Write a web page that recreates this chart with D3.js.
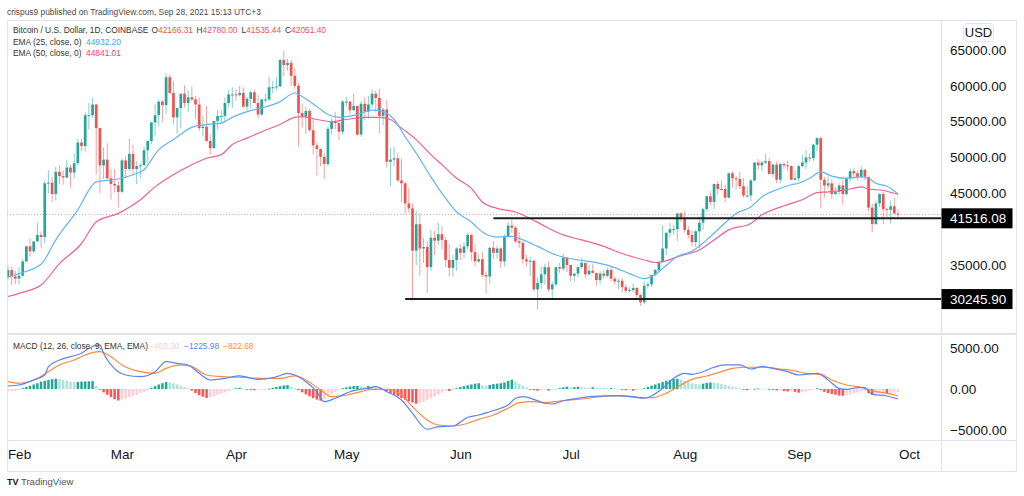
<!DOCTYPE html>
<html><head><meta charset="utf-8">
<script src="https://cdn.jsdelivr.net/npm/d3@7"></script>
<style>
html,body{margin:0;padding:0;background:#fff;}
svg{display:block;font-family:"Liberation Sans",Arial,sans-serif;}
</style></head><body>
<svg id="c" width="1024" height="496"></svg>
<script>
// ---------- DATA ----------
const firstDay = "2021-01-29";
const lastDay = "2021-09-28";
const monthTicks = ["2021-02-01","2021-03-01","2021-04-01","2021-05-01","2021-06-01","2021-07-01","2021-08-01","2021-09-01","2021-10-01"];
const priceTicks = [35000,40000,45000,50000,55000,60000,65000];
const macdTicks = [-5000,0,5000];

const open = [33300,34300,33400,33100,33500,35500,37600,36900,38300,39200,
38900,46400,46500,44900,48000,47400,47200,48600,47900,49200,
52100,51600,55900,55900,57400,54100,48900,49700,47100,46300,
46100,45200,49600,48400,50500,48400,48800,48900,51000,52300,
54900,55900,57800,57300,61200,59000,55600,56900,58900,57600,
58400,58100,57400,54100,54300,52300,51300,55100,55800,55800,
57600,58800,58800,58700,59000,57100,58200,59100,57600,56000,
58100,58100,59800,59800,59900,63600,62900,63200,61400,60000,
56200,55700,56500,53800,51700,51200,50100,49100,54000,55000,
54800,53600,57800,57800,56600,57200,53200,57500,56400,57400,
58900,58300,55800,56700,49400,49700,49900,46800,46400,43600,
42900,37000,40700,37300,37500,34700,38800,38400,39300,38500,
35700,34600,35700,37300,36700,37600,39200,36800,35500,35800,
33600,33400,37400,36700,37300,35500,39000,40500,40200,38300,
38100,35800,35500,35600,31600,32500,33700,34700,31600,32300,
34700,34500,36000,35000,33500,33800,34700,35300,33700,34200,
33900,32900,33800,33500,34300,33100,32700,32800,31900,31400,
31500,31800,30800,29800,32100,32300,33600,34300,35400,37300,
39500,40000,40000,42200,41500,39900,39200,38200,39700,40900,
42800,44600,43800,46300,45600,45600,44400,47800,47100,47000,
46000,44700,44700,46800,49300,48900,49300,49500,47700,49000,
46900,49100,48900,48800,46900,47100,48800,49300,50000,49900,
51800,52700,46900,46100,46400,44900,45200,46100,44900,47100,
48100,47800,47300,48300,47300,43000,40700,43600,44900,42800,
42700,43200,42166.31];

const high = [34900,34800,34200,34700,35900,37700,38700,38300,40900,39700,
46800,48200,47300,48700,48900,48200,49700,49000,50600,52600,
52600,56300,57600,58300,57500,54200,51400,52000,48400,48400,
46700,49800,50200,52600,51800,49500,49200,51500,52400,54900,
57400,58100,58000,61700,61600,60600,56900,58900,60100,59400,
59900,58600,58400,55800,57200,53200,55100,56600,56600,58400,
59400,59800,59500,60000,59800,58500,59300,59500,58700,58200,
58900,61300,60700,61200,63800,64900,63800,63600,62500,60400,
57500,57100,56800,55500,52100,51200,50600,54400,55500,56400,
55200,58000,58500,57900,58900,57200,57900,58400,58600,59500,
59300,59600,56900,58000,51300,51500,50700,49800,46600,45800,
43600,42600,42200,38800,38300,39900,39800,40900,40400,38900,
37900,36400,37500,37900,38200,39500,39300,37900,36500,36800,
34100,37500,38400,37700,37500,39300,41000,41300,40500,39600,
38200,36400,36100,35700,33300,34800,35200,35500,32700,34700,
35300,36600,36100,35000,33900,34900,35900,35300,35000,35100,
33900,34100,34300,34600,34700,33300,33100,33200,32300,31900,
32400,31900,31000,32800,32600,33600,34500,35400,40500,39500,
40900,40600,42300,42400,42600,40400,39800,39900,41400,43000,
44700,45300,46400,46700,46800,46200,47900,48100,47400,48000,
47100,46000,47000,49300,49800,49500,50500,49900,49200,49400,
49200,49300,49600,48900,48200,49000,50400,51000,50600,51900,
52800,52900,47300,47400,47000,45900,46400,46900,47300,48500,
48500,48200,48800,48400,47300,43600,44000,45000,45200,43000,
44000,44400,42780.00];

const low = [32900,32200,32300,32300,33400,35400,36200,36600,38200,37400,
38000,45000,43800,44000,46300,46200,47100,45800,47100,48900,
50900,50800,53900,55500,47600,45000,47000,46900,44100,45100,
43000,45000,47100,48100,47500,46300,47100,48900,49300,51900,
53100,54300,55000,56100,58900,54600,53300,54100,57000,56300,
57800,55500,53700,53000,52300,50400,51300,53900,54700,54900,
57000,56900,57900,58500,56900,56500,56800,57700,55500,55800,
57700,57900,59000,59400,59900,61300,62100,60000,59600,51500,
54200,53300,53600,50400,47500,48800,47000,48800,53300,53900,
52400,53100,57100,56000,56500,53000,52900,55200,55400,56900,
56300,53400,54500,48600,46000,48800,46600,43800,42100,42300,
30000,35000,33500,35300,31100,34200,36400,37800,37200,34700,
33400,33400,34200,35700,35900,37200,35600,34800,35300,33300,
31000,32400,35800,35900,34600,34800,38800,39500,38100,37400,
35200,34800,33400,31300,28800,31700,32300,31300,30200,32000,
33900,34200,34000,32700,32700,33300,34500,33200,33500,33800,
32100,32300,33100,33300,32700,32300,31600,31200,31100,31200,
31200,30400,29300,29500,31700,31900,33400,33900,35300,36400,
38800,39200,38300,41000,39500,38700,37600,37500,37300,39900,
42500,43300,42800,44700,45400,43800,44300,45800,45600,45600,
44400,44300,43900,46700,48300,48100,49100,47700,47200,46400,
46400,48400,48100,46900,46800,46600,48600,48400,49500,49500,
50900,42900,44400,45600,44200,44800,44800,43400,44700,46700,
47100,46800,47100,46900,42500,39600,40600,43100,40700,41700,
40800,42100,41535.44];

const close = [34300,33400,33100,33500,35500,37600,36900,38300,39200,38900,
46400,46500,44900,48000,47400,47200,48600,47900,49200,52100,
51600,55900,55900,57400,54100,48900,49700,47100,46300,46100,
45200,49600,48400,50500,48400,48800,48900,51000,52300,54900,
55900,57800,57300,61200,59000,55600,56900,58900,57600,58400,
58100,57400,54100,54300,52300,51300,55100,55800,55800,57600,
58800,58800,58700,59000,57100,58200,59100,57600,56000,58100,
58100,59800,59800,59900,63600,62900,63200,61400,60000,56200,
55700,56500,53800,51700,51200,50100,49100,54000,55000,54800,
53600,57800,57800,56600,57200,53200,57500,56400,57400,58900,
58300,55800,56700,49400,49700,49900,46800,46400,43600,42900,
37000,40700,37300,37500,34700,38800,38400,39300,38500,35700,
34600,35700,37300,36700,37600,39200,36800,35500,35800,33600,
33400,37400,36700,37300,35500,39000,40500,40200,38300,38100,
35800,35500,35600,31600,32500,33700,34700,31600,32300,34700,
34500,36000,35000,33500,33800,34700,35300,33700,34200,33900,
32900,33800,33500,34300,33100,32700,32800,31900,31400,31500,
31800,30800,29800,32100,32300,33600,34300,35400,37300,39500,
40000,40000,42200,41500,39900,39200,38200,39700,40900,42800,
44600,43800,46300,45600,45600,44400,47800,47100,47000,46000,
44700,44700,46800,49300,48900,49300,49500,47700,49000,46900,
49100,48900,48800,46900,47100,48800,49300,50000,49900,51800,
52700,46900,46100,46400,44900,45200,46100,44900,47100,48100,
47800,47300,48300,47300,43000,40700,43600,44900,42800,42700,
43200,42200,42051.40];

// [candle index, value]
const ema25Pts = [[0,33300],[3,33800],[9,35100],[13,38500],[19,42700],[24,46600],[30,47000],[34,47600],[37,48300],[41,51100],[45,52500],[50,54200],[54,54600],[58,54800],[61,55600],[65,56400],[69,56900],[74,57800],[78,59000],[80,58500],[84,57100],[87,56000],[90,55600],[95,56000],[99,56600],[102,56400],[105,55300],[108,52900],[111,50600],[115,47300],[118,45000],[122,42400],[126,41000],[129,39600],[133,38900],[137,39000],[140,38500],[144,37600],[149,36400],[155,35700],[158,35500],[164,34800],[169,33800],[173,33100],[175,33400],[178,34500],[182,36200],[186,36900],[190,38500],[194,40400],[198,42200],[202,43100],[205,44500],[209,45500],[213,46200],[215,46400],[218,47100],[221,48000],[224,47400],[228,47100],[232,47300],[234,47100],[236,46400],[239,46000],[242,44932.20]];
const ema50Pts = [[0,30600],[3,31050],[9,32200],[14,35200],[20,38000],[24,41000],[30,42200],[36,44100],[40,45900],[45,47600],[50,49000],[54,49900],[58,50400],[61,51800],[65,52700],[69,53600],[74,54600],[78,55600],[80,55700],[84,55300],[88,55000],[92,55300],[97,55600],[101,55600],[104,55300],[107,54100],[111,52500],[115,50400],[118,49000],[122,47100],[126,45700],[129,43800],[133,42900],[138,42400],[142,41500],[146,40400],[151,39200],[156,38500],[162,37600],[167,36600],[173,35700],[176,35350],[179,35600],[183,36300],[188,37100],[192,38500],[196,39900],[202,40800],[205,42000],[209,42900],[213,43600],[216,44100],[220,45100],[223,45200],[228,45500],[232,45900],[234,45600],[238,45400],[242,44841.01]];
const macdPts = [[0,370],[3,490],[7,1100],[10,1710],[11,2720],[14,3540],[17,3940],[20,4350],[22,4960],[25,5370],[26,4350],[30,2110],[32,1710],[36,1500],[40,2110],[43,3330],[46,3130],[49,2930],[52,1910],[55,1100],[59,1300],[63,1590],[68,1180],[70,1220],[73,1500],[76,1910],[78,1710],[81,890],[84,-330],[86,-1550],[89,-1130],[93,-330],[98,100],[100,280],[103,-330],[107,-1340],[110,-2960],[114,-4910],[117,-4600],[121,-4510],[125,-3450],[128,-3170],[131,-2770],[134,-2350],[136,-1950],[138,-1130],[140,-940],[143,-1260],[146,-1740],[148,-1830],[151,-1430],[155,-1130],[158,-940],[163,-850],[166,-850],[170,-940],[173,-1130],[175,-850],[178,85],[181,1300],[184,1910],[186,1790],[189,2110],[192,2650],[195,2930],[199,2930],[202,2440],[205,2720],[208,2520],[212,2110],[215,1710],[220,1910],[223,1100],[226,85],[228,-40],[231,160],[233,160],[235,-650],[239,-850],[242,-1225.98]];
const signalPts = [[0,890],[3,700],[7,1100],[11,2110],[14,2930],[18,3540],[21,4150],[25,4550],[28,3940],[31,2930],[36,2110],[40,1910],[43,2520],[47,2930],[50,2720],[54,1710],[58,1500],[63,1430],[69,1300],[74,1300],[78,1590],[81,1100],[85,-120],[88,-940],[92,-730],[96,-330],[99,-40],[103,-40],[107,-730],[110,-2160],[114,-3780],[117,-4390],[121,-4510],[125,-4180],[128,-3700],[132,-3170],[136,-2350],[139,-1670],[143,-1550],[146,-1670],[150,-1460],[156,-1220],[161,-940],[166,-820],[172,-1060],[175,-1060],[179,-520],[183,490],[186,1180],[190,1590],[194,2110],[197,2520],[201,2650],[206,2650],[210,2440],[214,2200],[217,1910],[221,1790],[224,1100],[228,490],[232,210],[234,-120],[238,-450],[242,-822.68]];
const histogram = [-300,-250,-200,-150,
100,250,400,550,700,900,
1000,1100,1200,1250,
1200,1100,1000,900,850,
870,900,920,940,960,
400,
-100,-400,-700,-1000,-1250,-1400,
-1300,-1150,-1000,-850,-700,-500,-350,-200,
150,350,550,700,850,
800,700,550,400,250,100,
-200,-500,-750,-950,-1100,
-1000,-850,-700,-550,-400,-250,-100,
100,150,
50,-30,-60,-150,-80,-40,-10,
50,150,250,350,430,460,
300,120,
-150,-400,-650,-900,-1100,-1300,-1430,
-1200,-900,-600,-350,-100,
100,200,300,360,380,
330,300,350,300,200,80,
-100,-300,-500,-700,-900,-1100,-1300,-1500,-1650,-1790,
-1700,-1550,-1350,-1150,-950,-700,-450,
-200,-250,-80,
100,250,350,450,550,650,700,
450,400,
500,600,650,700,800,
1000,1140,
900,650,400,200,
-50,-150,-200,-120,-100,-200,-150,-50,
100,200,280,200,220,280,200,
180,160,200,170,150,130,100,120,80,40,
-80,-150,-130,-200,-120,-80,
100,250,400,550,700,850,1000,1100,1200,1250,
1150,1000,850,700,600,
550,650,750,800,780,
700,600,500,380,280,180,80,
-100,-150,
-50,30,60,50,40,-20,
-100,-180,-150,-250,-300,-250,-350,-450,-400,-300,-200,-100,
100,
-150,-350,-500,-600,-700,-800,-820,-750,
-650,-500,-400,-300,-250,
-500,-700,-650,
-550,-500,-600,-520,-450,-403.30];

const levelValues = [41516.08, 30245.90];
const levelStarts = ["2021-06-10", "2021-05-17"];

// ---------- SETUP ----------
const svg = d3.select("#c");
const L = 7, R = 941, PR = 1016, T = 20, MID = 334, TA = 440, B = 471;
const parse = d3.utcParse("%Y-%m-%d");
const days = d3.utcDay.range(parse(firstDay), d3.utcDay.offset(parse(lastDay), 1));
const x = d3.scaleUtc().domain([parse("2021-02-01"), parse("2021-10-01")]).range([19, 909]);
const y = d3.scaleLinear().domain([35000, 65000]).range([265, 50]);
const ym = d3.scaleLinear().domain([-5000, 5000]).range([430, 348]);

const UP = "#26a69a", DOWN = "#ef5350";
const defs = svg.append("defs");
defs.append("clipPath").attr("id","clipMain").append("rect").attr("x",L+0.5).attr("y",T+1).attr("width",R-L-0.5).attr("height",MID-T-2);
defs.append("clipPath").attr("id","clipMacd").append("rect").attr("x",L+0.5).attr("y",MID+1).attr("width",R-L-0.5).attr("height",TA-MID-1);

// frames
const frame = svg.append("g").attr("fill","none").attr("stroke","#e0e3eb");
frame.append("rect").attr("x",L+0.5).attr("y",T+0.5).attr("width",PR-L).attr("height",B-T);
frame.append("line").attr("x1",R+0.5).attr("x2",R+0.5).attr("y1",T).attr("y2",B);
frame.append("line").attr("x1",L).attr("x2",PR).attr("y1",MID).attr("y2",MID).attr("stroke-width",2);
frame.append("line").attr("x1",L).attr("x2",PR).attr("y1",TA+0.5).attr("y2",TA+0.5);

// ---------- MAIN PANE ----------
const gMain = svg.append("g").attr("clip-path","url(#clipMain)");
const candles = days.map((d,i)=>({d, o:open[i], h:high[i], l:low[i], c:close[i]}));

// current price dotted line
gMain.append("line").attr("x1",L).attr("x2",R).attr("y1",y(close[close.length-1])).attr("y2",y(close[close.length-1]))
  .attr("stroke","#ef5350").attr("stroke-opacity",0.55).attr("stroke-dasharray","1,2");

gMain.append("g").selectAll("line").data(candles).join("line")
  .attr("x1",d=>x(d.d)).attr("x2",d=>x(d.d))
  .attr("y1",d=>y(d.h)).attr("y2",d=>y(d.l))
  .attr("stroke",d=>d.c>=d.o?UP:DOWN).attr("stroke-opacity",0.55).attr("stroke-width",1);
gMain.append("g").selectAll("rect").data(candles).join("rect")
  .attr("x",d=>x(d.d)-1.35).attr("width",2.7)
  .attr("y",d=>y(Math.max(d.o,d.c)))
  .attr("height",d=>Math.max(1,Math.abs(y(d.o)-y(d.c))))
  .attr("fill",d=>d.c>=d.o?UP:DOWN);

const line = d3.line().x(p=>x(days[p[0]])).y(p=>y(p[1])).curve(d3.curveMonotoneX);
gMain.append("path").attr("d",line(ema50Pts)).attr("fill","none").attr("stroke","#f06292").attr("stroke-width",1.2);
gMain.append("path").attr("d",line(ema25Pts)).attr("fill","none").attr("stroke","#64b5f6").attr("stroke-width",1.2);

// horizontal levels
levelValues.forEach((v,k)=>{
  gMain.append("line").attr("x1",x(parse(levelStarts[k]))).attr("x2",R)
    .attr("y1",y(v)).attr("y2",y(v)).attr("stroke","#1e1e1e").attr("stroke-width",2);
});

// price axis (labels hidden where a level label covers them, as on the original)
const visibleTicks = priceTicks.filter(t=>levelValues.every(v=>Math.abs(y(t)-y(v))>14));
const pAxis = svg.append("g").attr("transform",`translate(${R},0)`)
  .call(d3.axisRight(y).tickValues(visibleTicks).tickSize(0).tickPadding(9).tickFormat(d3.format(".2f")));
pAxis.select(".domain").remove();
pAxis.selectAll("text").attr("fill","#131722").attr("font-size","13.5px").attr("font-family","Liberation Sans, Arial, sans-serif");

// level labels
levelValues.forEach(v=>{
  svg.append("rect").attr("x",R+0.5).attr("y",y(v)-10).attr("width",71).attr("height",20).attr("fill","#000");
  svg.append("text").attr("x",R+9).attr("y",y(v)+5).attr("fill","#fff").attr("font-size","13.5px").text(d3.format(".2f")(v));
});

// USD box
svg.append("rect").attr("x",963.5).attr("y",23.5).attr("width",30).attr("height",18).attr("rx",3)
  .attr("fill","#fff").attr("stroke","#e0e3eb");
svg.append("text").attr("x",978.5).attr("y",37).attr("text-anchor","middle").attr("font-size","13px").attr("fill","#131722").text("USD");

// ---------- MACD PANE ----------
const gM = svg.append("g").attr("clip-path","url(#clipMacd)");
gM.append("g").selectAll("rect").data(histogram).join("rect")
  .attr("x",(v,i)=>x(days[i])-1.25).attr("width",2.5)
  .attr("y",v=>Math.min(ym(0),ym(v))).attr("height",v=>Math.max(0.8,Math.abs(ym(v)-ym(0))))
  .attr("fill",(v,i)=>{
    const p = i>0?histogram[i-1]:v;
    if (v>=0) return v>=p?"#26a69a":"#b2dfdb";
    return v<p?"#ff5252":"#ffcdd2";
  });
const mline = d3.line().x(p=>x(days[p[0]])).y(p=>ym(p[1])).curve(d3.curveMonotoneX);
gM.append("path").attr("d",mline(signalPts)).attr("fill","none").attr("stroke","#ff8a3d").attr("stroke-width",1.2);
gM.append("path").attr("d",mline(macdPts)).attr("fill","none").attr("stroke","#5b83f6").attr("stroke-width",1.2);

const mAxis = svg.append("g").attr("transform",`translate(${R},0)`)
  .call(d3.axisRight(ym).tickValues(macdTicks).tickSize(0).tickPadding(9)
    .tickFormat(v=>d3.format(".2f")(v).replace("-","\u2212")));
mAxis.select(".domain").remove();
mAxis.selectAll("text").attr("fill","#131722").attr("font-size","13.5px").attr("font-family","Liberation Sans, Arial, sans-serif");

// ---------- TIME AXIS ----------
const tAxis = svg.append("g").attr("transform",`translate(0,${TA})`)
  .call(d3.axisBottom(x).tickValues(monthTicks.map(parse)).tickSize(0).tickPadding(9).tickFormat(d3.utcFormat("%b")));
tAxis.select(".domain").remove();
tAxis.selectAll("text").attr("fill","#131722").attr("font-size","13.5px").attr("font-family","Liberation Sans, Arial, sans-serif");

// ---------- TEXTS ----------
svg.append("text").attr("x",7).attr("y",15).attr("font-size","8.4px").attr("fill","#4a4a4a")
  .text("crispus9 published on TradingView.com, Sep 28, 2021 15:13 UTC+3");

const fmt = d3.format(".2f");
const lg = svg.append("g").attr("font-size","8.4px");
const t1 = lg.append("text").attr("x",13).attr("y",33).attr("fill","#333");
t1.append("tspan").text("Bitcoin / U.S. Dollar, 1D, COINBASE");
[["O",open],["H",high],["L",low],["C",close]].forEach(([k,arr],j)=>{
  const xs=[151.5,196.5,241.5,285];
  t1.append("tspan").attr("x",xs[j]).attr("fill","#333").text(k);
  t1.append("tspan").attr("fill","#ef5350").text(fmt(arr[arr.length-1]));
});
const t2 = lg.append("text").attr("x",13).attr("y",45).attr("fill","#333");
t2.append("tspan").text("EMA (25, close, 0)");
t2.append("tspan").attr("x",86).attr("fill","#42a5f5").text(fmt(ema25Pts[ema25Pts.length-1][1]));
const t3 = lg.append("text").attr("x",13).attr("y",56).attr("fill","#333");
t3.append("tspan").text("EMA (50, close, 0)");
t3.append("tspan").attr("x",86).attr("fill","#ec407a").text(fmt(ema50Pts[ema50Pts.length-1][1]));

const neg = v=>fmt(v).replace("-","\u2212");
const t4 = lg.append("text").attr("x",13).attr("y",349).attr("fill","#333");
t4.append("tspan").text("MACD (12, 26, close, 9, EMA, EMA)");
t4.append("tspan").attr("x",149).attr("fill","#ffcdd2").text(neg(histogram[histogram.length-1]));
t4.append("tspan").attr("x",184).attr("fill","#5b83f6").text(neg(macdPts[macdPts.length-1][1]));
t4.append("tspan").attr("x",223).attr("fill","#ff8a3d").text(neg(signalPts[signalPts.length-1][1]));

// TradingView logo
const logo = svg.append("g");
logo.append("text").attr("x",7).attr("y",485).attr("font-size","9px").attr("font-weight","bold").attr("fill","#131722").text("TV");
logo.append("text").attr("x",21).attr("y",485).attr("font-size","9.5px").attr("fill","#555").text("TradingView");
</script>
</body></html>
